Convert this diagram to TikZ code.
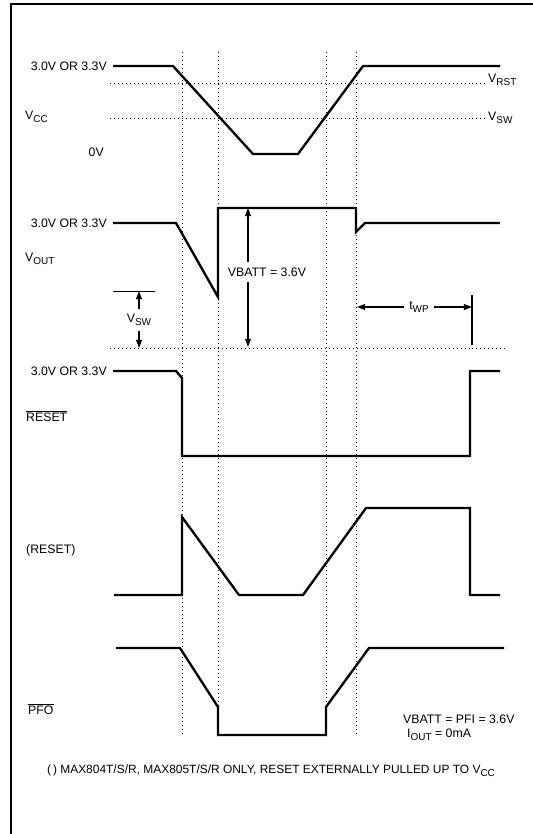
\documentclass[tikz,border=0pt]{standalone}
\usepackage{fontspec}
\setmainfont{Liberation Sans}
\usepackage{tikz}
\usetikzlibrary{arrows.meta}
\newcommand{\lowtxt}[1]{\raisebox{-0.45ex}{\fontsize{8.5}{9}\selectfont #1}}
\newcommand{\barred}[1]{$\overline{\hbox{#1}}$}

\begin{document}
\begin{tikzpicture}[x=0.03cm,y=-0.03cm,
  wave/.style={line width=2pt,line join=miter},
  guide/.style={line width=0.7pt,dash pattern=on 0.7pt off 2.7pt},
  lbl/.style={font=\fontsize{10.5}{12}\selectfont,inner sep=0pt},
  dimarr/.style={line width=1.1pt,-{Triangle[length=7pt,width=5pt]}}]
\useasboundingbox (0,0) rectangle (533,834);
% frame
\draw[line width=1.2pt] (533,4) -| (11,834);
% guide lines
\foreach \gx in {182,218,326,356} \draw[guide] (\gx,52) -- (\gx,737);
\draw[guide] (110,83) -- (485,83);
\draw[guide] (110,118) -- (485,118);
\draw[guide] (110,348) -- (505,348);
% VCC
\node[lbl,anchor=east] (hi1) at (107,66) {3.0V OR 3.3V};
\node[lbl,anchor=west] (vcc) at (25,117) {V\lowtxt{CC}};
\node[lbl,anchor=east] (zero) at (104,152) {0V};
\node[lbl,anchor=west] (vrst) at (488,80) {V\lowtxt{RST}};
\node[lbl,anchor=west] (vswr) at (488,118) {V\lowtxt{SW}};
\draw[wave] (113,66) -- (173,66) -- (253,154) -- (298,154) -- (363,66) -- (500,66);
% VOUT
\node[lbl,anchor=east] (hi2) at (107,223) {3.0V OR 3.3V};
\node[lbl,anchor=west] (vout) at (25,259) {V\lowtxt{OUT}};
\draw[wave] (113,223) -- (176,223) -- (218,297) -- (218,208) -- (356,208) -- (356,232) -- (365,223) -- (500,223);
\node[lbl,inner sep=5pt] (vbatt) at (267,272) {VBATT = 3.6V};
\coordinate (vbtop) at (248,208);
\coordinate (vbbot) at (248,347);
\draw[dimarr] (vbatt.north -| vbtop) -- (vbtop);
\draw[dimarr] (vbatt.south -| vbbot) -- (vbbot);
\draw[line width=0.8pt] (113,291) -- (155,291);
\node[lbl,inner sep=4pt] (vswl) at (139,320) {V\lowtxt{SW}};
\coordinate (swtop) at (139,291);
\coordinate (swbot) at (139,348);
\draw[dimarr] (vswl.north) -- (swtop);
\draw[dimarr] (vswl.south) -- (swbot);
\draw[line width=1pt] (472,295) -- (472,345);
\node[lbl,inner sep=4pt] (twp) at (419,307) {t\lowtxt{WP}};
\coordinate (wpl) at (357,307);
\coordinate (wpr) at (472,307);
\draw[dimarr] (twp.west) -- (wpl);
\draw[dimarr] (twp.east) -- (wpr);
% RESET
\node[lbl,anchor=east] (hi3) at (107,371) {3.0V OR 3.3V};
\node[lbl,anchor=west] (rstb) at (26,416) {\barred{RESET}};
\draw[wave] (113,371) -- (176,371) -- (182,378) -- (182,456) -- (470,456) -- (470,371) -- (500,371);
% (RESET)
\node[lbl,anchor=west] (rst) at (26,550) {(RESET)};
\draw[wave] (114,595) -- (182,595) -- (182,517) -- (239,595) -- (303,595) -- (366,508) -- (470,508) -- (470,595) -- (500,595);
% PFO
\node[lbl,anchor=west] (pfo) at (28,709) {\barred{PFO}};
\draw[wave] (116,648) -- (180,648) -- (218,707) -- (218,735) -- (326,735) -- (326,707) -- (369,648) -- (504,648);
\node[lbl,anchor=west] (cond1) at (403,719) {VBATT = PFI = 3.6V};
\node[lbl,anchor=west] (cond2) at (407,735) {I\lowtxt{OUT} = 0mA};
% note
\node[lbl,font=\fontsize{10.2}{12}\selectfont] (note) at (271,771) {(\,) MAX804T/S/R, MAX805T/S/R ONLY, RESET EXTERNALLY PULLED UP TO V\lowtxt{CC}};
\end{tikzpicture}
\end{document}
